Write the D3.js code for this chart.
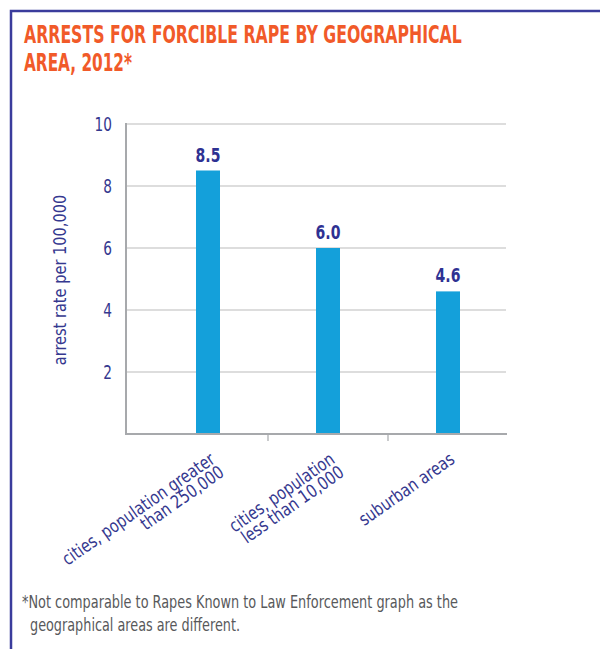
<!DOCTYPE html>
<html>
<head>
<meta charset="utf-8">
<script src="https://cdn.jsdelivr.net/npm/d3@7"></script>
<style>
  html, body { margin: 0; padding: 0; background: #fff; }
  svg { display: block; }
</style>
</head>
<body>
<svg id="chart" width="600" height="649"></svg>
<script>
const categories = [["cities, population greater", "than 250,000"], ["cities, population", "less than 10,000"], ["suburban areas"]];
const values = [8.5, 6.0, 4.6];
const valueLabels = ["8.5", "6.0", "4.6"];
const yTicks = [2, 4, 6, 8, 10];
const titleLines = ["ARRESTS FOR FORCIBLE RAPE BY GEOGRAPHICAL", "AREA, 2012*"];
const yTitle = "arrest rate per 100,000";
const footLines = ["*Not comparable to Rapes Known to Law Enforcement graph as the", "geographical areas are different."];

const svg = d3.select("#chart");
const FONT = '"DejaVu Sans Condensed", "Liberation Sans Narrow", sans-serif';
const BLUE_TXT = "#35388f";

// horizontally condense text by a factor
function condense(sel, f) {
  sel.each(function () {
    const L = this.getComputedTextLength();
    d3.select(this).attr("textLength", L * f).attr("lengthAdjust", "spacingAndGlyphs");
  });
}

// frame
svg.append("path").attr("d", "M600,11 H11 V649").attr("fill", "none")
  .attr("stroke", "#3a3c9c").attr("stroke-width", 2.5);

// title (scaled horizontally to the condensed width of the original)
const titleWidths = [438, 108];
svg.append("g").selectAll("text").data(titleLines).join("text")
  .attr("x", 0).attr("y", 0)
  .attr("font-family", FONT).attr("font-weight", "bold").attr("font-size", 24)
  .attr("fill", "#f15a29")
  .text(d => d)
  .each(function (d, i) {
    const s = titleWidths[i] / this.getComputedTextLength();
    d3.select(this).attr("transform", `translate(24,${43 + i * 28}) scale(${s},1)`);
  });

const x0 = 126, x1 = 506;
const y = d3.scaleLinear().domain([0, 10]).range([434, 124]);
const x = d3.scaleBand().domain(d3.range(values.length)).range([148, 508]).paddingInner(0.8).paddingOuter(0.4);

// gridlines
svg.append("g").selectAll("line").data(yTicks).join("line")
  .attr("x1", x0).attr("x2", x1).attr("y1", d => y(d)).attr("y2", d => y(d))
  .attr("stroke", "#bcbcbc").attr("stroke-width", 1.2);

// y axis labels
svg.append("g").selectAll("text").data(yTicks).join("text")
  .attr("x", 112).attr("y", d => y(d) + 7).attr("text-anchor", "end")
  .attr("font-family", FONT).attr("font-size", 19).attr("fill", BLUE_TXT)
  .text(d => d).call(condense, 0.8);

// y title
svg.append("text").attr("transform", "translate(66,280) rotate(-90)")
  .attr("text-anchor", "middle").attr("font-family", FONT).attr("font-size", 18)
  .attr("fill", BLUE_TXT).text(yTitle).call(condense, 0.9);

// bars
svg.append("g").selectAll("rect").data(values).join("rect")
  .attr("x", (d, i) => x(i)).attr("width", x.bandwidth())
  .attr("y", d => y(d)).attr("height", d => y(0) - y(d))
  .attr("fill", "#14a0da");

// value labels
svg.append("g").selectAll("text").data(values).join("text")
  .attr("x", (d, i) => x(i) + x.bandwidth() / 2).attr("y", d => y(d) - 9)
  .attr("text-anchor", "middle").attr("font-family", FONT).attr("font-weight", "bold")
  .attr("font-size", 20).attr("fill", "#2e3192")
  .text((d, i) => valueLabels[i]).call(condense, 0.78);

// axes lines
svg.append("line").attr("x1", x0).attr("x2", x0).attr("y1", 123).attr("y2", 435)
  .attr("stroke", "#a7a9ac").attr("stroke-width", 2);
svg.append("line").attr("x1", x0 - 1).attr("x2", x1 + 1).attr("y1", 434).attr("y2", 434)
  .attr("stroke", "#a7a9ac").attr("stroke-width", 2);

// bottom ticks at band boundaries
const step = x.step();
svg.append("g").selectAll("line").data([1, 2]).join("line")
  .attr("x1", i => 148 + i * step).attr("x2", i => 148 + i * step)
  .attr("y1", 434).attr("y2", 441).attr("stroke", "#a7a9ac").attr("stroke-width", 1.2);

// x labels
const xl = svg.append("g").selectAll("g").data(categories).join("g")
  .attr("transform", (d, i) => `translate(${x(i) + x.bandwidth() / 2 + 8},462) rotate(-35)`);
xl.each(function (d) {
  d3.select(this).selectAll("text").data(d).join("text")
    .attr("x", 0).attr("y", (t, j) => j * 16)
    .attr("text-anchor", "end").attr("font-family", FONT).attr("font-size", 18)
    .attr("fill", BLUE_TXT).text(t => t).call(condense, 0.89);
});

// footnote
svg.append("g").selectAll("text").data(footLines).join("text")
  .attr("x", (d, i) => i === 0 ? 22 : 30).attr("y", (d, i) => 608 + i * 23)
  .attr("font-family", FONT).attr("font-size", 18).attr("fill", "#58595b")
  .attr("textLength", (d, i) => i === 0 ? 436 : 210).attr("lengthAdjust", "spacingAndGlyphs")
  .text(d => d);
</script>
</body>
</html>
